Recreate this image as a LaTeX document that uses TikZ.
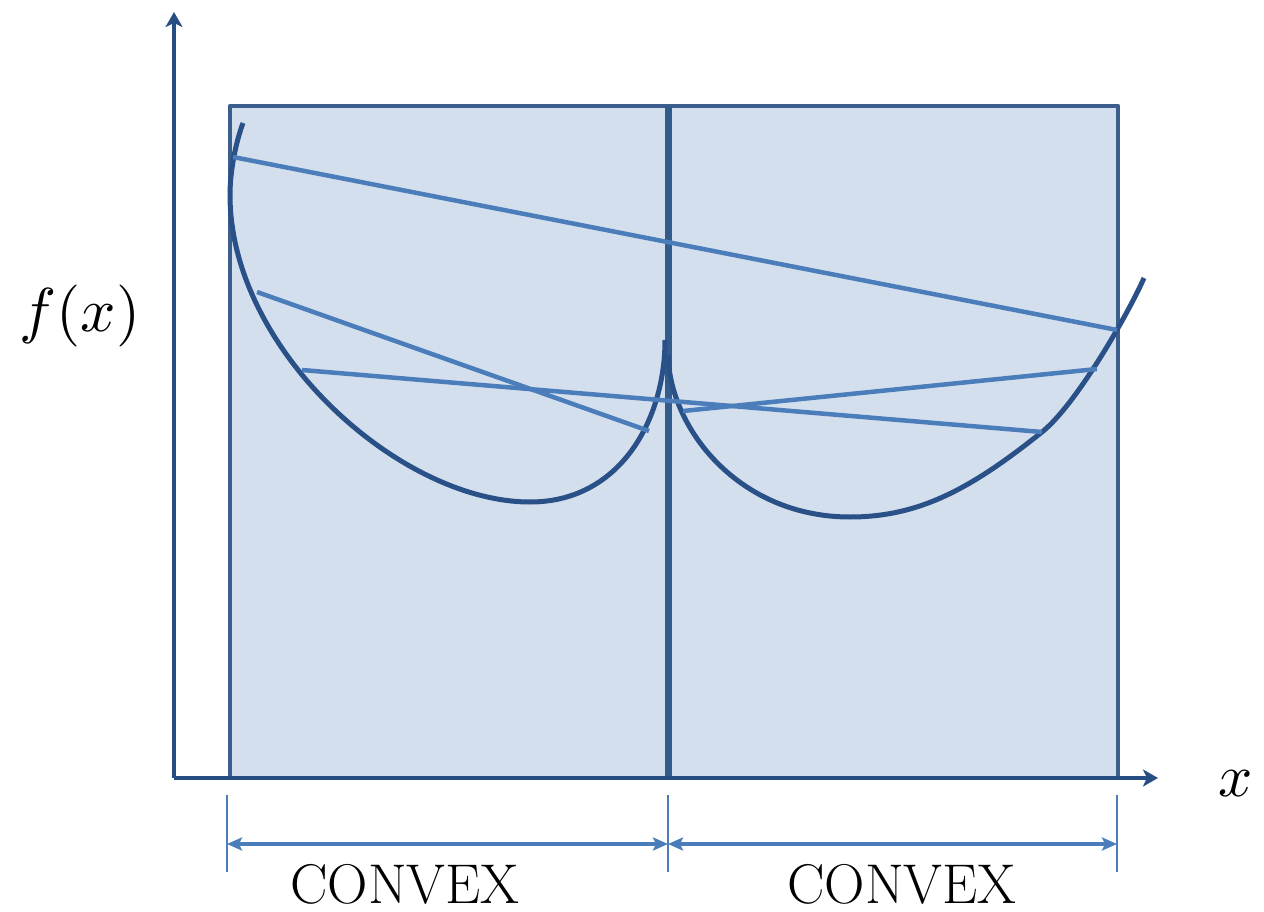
\documentclass[tikz,border=0pt]{standalone}
\usepackage{graphicx}
\usetikzlibrary{arrows.meta}
\definecolor{fillc}{HTML}{D4DFEE}
\definecolor{rectc}{HTML}{3B5E8C}
\definecolor{midc}{HTML}{335B8C}
\definecolor{axisc}{HTML}{264E82}
\definecolor{curvec}{HTML}{2A5088}
\definecolor{chordc}{HTML}{4A7DBA}
\tikzset{
  axisline/.style={axisc, line width=4.5pt, -{Stealth[length=15pt,width=17pt,inset=4pt]}},
  funccurve/.style={curvec, line width=5pt},
  chordline/.style={chordc, line width=4.5pt},
  tickline/.style={chordc, line width=1.8pt},
  dimline/.style={chordc, line width=3.5pt, {Stealth[length=15pt,width=13pt,inset=3pt]}-{Stealth[length=15pt,width=13pt,inset=3pt]}},
  lbl/.style={inner sep=0pt, anchor=base},
}
\begin{document}
\begin{tikzpicture}[x=1pt,y=-1pt, line join=round]
\useasboundingbox (0,0) rectangle (1264,912);
% regions
\fill[fillc] (230,106) rectangle (1118,778);
\draw[rectc, line width=4.5pt] (230,778) -- (230,106) -- (1118,106) -- (1118,778);
\draw[midc, line width=7pt] (668,106) -- (668,778);
% curves
\draw[funccurve] (243,123) .. controls (236,142) and (230,170) .. (230,195)
  .. controls (230,350) and (400,502) .. (530,502)
  .. controls (620,502) and (665,420) .. (665,340);
\draw[funccurve] (668,355) .. controls (670,430) and (740,517) .. (850,517)
  .. controls (920,517) and (972,488) .. (1042,432)
  .. controls (1077,404) and (1129,312) .. (1144,278);
% chords
\coordinate (c1a) at (233,157); \coordinate (c1b) at (1117,330);
\coordinate (c2a) at (257,292); \coordinate (c2b) at (649,431);
\coordinate (c3a) at (302,370); \coordinate (c3b) at (1042,432);
\coordinate (c4a) at (683,411); \coordinate (c4b) at (1097,369);
\draw[chordline] (c1a) -- (c1b);
\draw[chordline] (c2a) -- (c2b);
\draw[chordline] (c3a) -- (c3b);
\draw[chordline] (c4a) -- (c4b);
% axes
\coordinate (O) at (174,778);
\coordinate (ytip) at (174,12);
\coordinate (xtip) at (1158,778);
\draw[axisline] (O) -- (ytip);
\draw[axisline] (O) -- (xtip);
\node[lbl, anchor=center] (fx) at (80,316) {\scalebox{6.2}{$f(x)$}};
\node[lbl, anchor=center] (xl) at (1236,784) {\scalebox{6}{$x$}};
% dimension lines
\coordinate (t1a) at (227,795); \coordinate (t1b) at (227,872);
\coordinate (t2a) at (668,795); \coordinate (t2b) at (668,872);
\coordinate (t3a) at (1117,795); \coordinate (t3b) at (1117,872);
\draw[tickline] (t1a) -- (t1b);
\draw[tickline] (t2a) -- (t2b);
\draw[tickline] (t3a) -- (t3b);
\coordinate (d1) at (227,844); \coordinate (d2) at (668,844); \coordinate (d3) at (1117,844);
\draw[dimline] (d1) -- (d2);
\draw[dimline] (d2) -- (d3);
\node[lbl, font=\fontsize{56}{60}\selectfont] (cv1) at (405,903) {CONVEX};
\node[lbl, font=\fontsize{56}{60}\selectfont] (cv2) at (902,903) {CONVEX};
\end{tikzpicture}
\end{document}
